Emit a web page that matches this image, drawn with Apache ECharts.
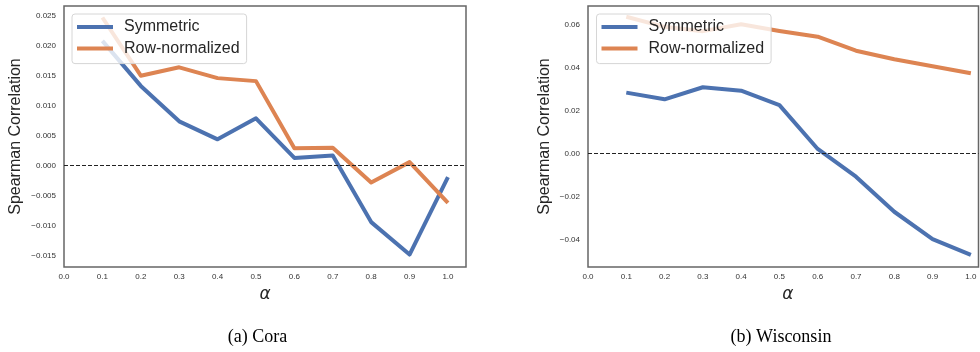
<!DOCTYPE html>
<html>
<head>
<meta charset="utf-8">
<script src="https://cdn.jsdelivr.net/npm/echarts@6/dist/echarts.min.js"></script>
<style>
  html, body { margin: 0; padding: 0; background: #ffffff; }
  #chart { width: 980px; height: 352px; }
</style>
</head>
<body>
<div id="chart"></div>
<script>
// Smoothing parameter alpha (x values for every curve)
const alphas = [0.1, 0.2, 0.3, 0.4, 0.5, 0.6, 0.7, 0.8, 0.9, 1.0];

// Cora: Spearman correlation per alpha
const coraSymmetric = [0.0208, 0.0133, 0.0074, 0.0044, 0.0079, 0.0013, 0.0017, -0.0094, -0.0148, -0.0019];
const coraRowNorm   = [0.0247, 0.0150, 0.0164, 0.0146, 0.0141, 0.0029, 0.0030, -0.0028, 0.0006, -0.0062];

// Wisconsin: Spearman correlation per alpha
const wiscSymmetric = [0.0284, 0.0253, 0.0309, 0.0293, 0.0226, 0.0022, -0.0107, -0.0270, -0.0397, -0.0471];
const wiscRowNorm   = [0.0637, 0.0590, 0.0570, 0.0602, 0.0571, 0.0544, 0.0479, 0.0439, 0.0407, 0.0374];

// Tick labels
const xTicks = [0.0, 0.1, 0.2, 0.3, 0.4, 0.5, 0.6, 0.7, 0.8, 0.9, 1.0];
const coraYTicks = [-0.015, -0.010, -0.005, 0.000, 0.005, 0.010, 0.015, 0.020, 0.025];
const wiscYTicks = [-0.04, -0.02, 0.00, 0.02, 0.04, 0.06];

const seriesNames = ['Symmetric', 'Row-normalized'];
const captions = ['(a) Cora', '(b) Wisconsin'];

const BLUE = '#4C72B0';
const ORANGE = '#DD8452';
const TEXT = '#262626';

const pairs = ys => alphas.map((a, i) => [a, ys[i]]);
const fmt = d => v => v.toFixed(d).replace('-', '\u2212');

function xAxisFor(gridIndex, max, namePad) {
  return {
    type: 'value', gridIndex, min: 0, max,
    axisLine: { show: false }, axisTick: { show: false }, splitLine: { show: false },
    axisLabel: {
      customValues: xTicks, formatter: fmt(1), fontSize: 8, color: '#333',
      fontFamily: 'Liberation Sans', margin: 6
    },
    name: '\u03b1', nameLocation: 'middle', nameGap: 17,
    nameTextStyle: {
      fontSize: 17, fontStyle: 'italic', fontFamily: 'DejaVu Sans', color: TEXT,
      padding: [0, 0, 0, namePad]
    }
  };
}

function yAxisFor(gridIndex, min, max, ticks, digits, gap) {
  return {
    type: 'value', gridIndex, min, max,
    axisLine: { show: false }, axisTick: { show: false }, splitLine: { show: false },
    axisLabel: {
      customValues: ticks, formatter: fmt(digits), fontSize: 8, color: '#333',
      fontFamily: 'Liberation Sans', margin: 8
    },
    name: 'Spearman Correlation', nameLocation: 'middle', nameGap: gap,
    nameTextStyle: { fontSize: 16, fontFamily: 'Liberation Sans', color: TEXT }
  };
}

function lineSeries(name, data, color, idx, withZero) {
  const s = {
    name, type: 'line', xAxisIndex: idx, yAxisIndex: idx,
    data, symbol: 'none', silent: true,
    lineStyle: { color, width: 4, join: 'round', cap: 'butt' },
    itemStyle: { color },
    z: 2
  };
  if (withZero) {
    s.markLine = {
      silent: true, symbol: 'none', label: { show: false },
      lineStyle: { color: '#222', width: 1.2, type: [4, 2] },
      data: [{ yAxis: 0 }], z: 3
    };
  }
  return s;
}

function legendFor(left) {
  return {
    left, top: 14, orient: 'vertical',
    data: seriesNames,
    icon: 'rect', itemWidth: 36, itemHeight: 4, itemGap: 5.6,
    padding: [5, 7, 7, 5],
    backgroundColor: 'rgba(255,255,255,0.8)',
    borderColor: '#d6d6d6', borderWidth: 1, borderRadius: 3,
    textStyle: {
      fontSize: 16, lineHeight: 16, fontFamily: 'Liberation Sans', color: TEXT,
      padding: [0, 0, 0, 6]
    },
    selectedMode: false
  };
}

const chart = echarts.init(document.getElementById('chart'), null, { renderer: 'canvas' });

chart.setOption({
  animation: false,
  backgroundColor: '#ffffff',
  grid: [
    { left: 64, top: 6, width: 402, height: 261, show: true, borderColor: '#666', borderWidth: 1.5, backgroundColor: '#fff' },
    { left: 588, top: 6, width: 390.5, height: 261, show: true, borderColor: '#666', borderWidth: 1.5, backgroundColor: '#fff' }
  ],
  legend: [legendFor(72), legendFor(596.5)],
  xAxis: [xAxisFor(0, 1.047, 0), xAxisFor(1, 1.02, 9)],
  yAxis: [
    yAxisFor(0, -0.01688, 0.02662, coraYTicks, 3, 40),
    yAxisFor(1, -0.0527, 0.0687, wiscYTicks, 2, 35)
  ],
  series: [
    lineSeries(seriesNames[0], pairs(coraSymmetric), BLUE, 0, true),
    lineSeries(seriesNames[1], pairs(coraRowNorm), ORANGE, 0, false),
    lineSeries(seriesNames[0], pairs(wiscSymmetric), BLUE, 1, true),
    lineSeries(seriesNames[1], pairs(wiscRowNorm), ORANGE, 1, false)
  ],
  graphic: [
    { type: 'text', x: 257.5, y: 337, style: { text: captions[0], font: '18px "Liberation Serif"', fill: '#000', textAlign: 'center', textVerticalAlign: 'middle' } },
    { type: 'text', x: 781, y: 337, style: { text: captions[1], font: '18px "Liberation Serif"', fill: '#000', textAlign: 'center', textVerticalAlign: 'middle' } }
  ]
});
</script>
</body>
</html>
